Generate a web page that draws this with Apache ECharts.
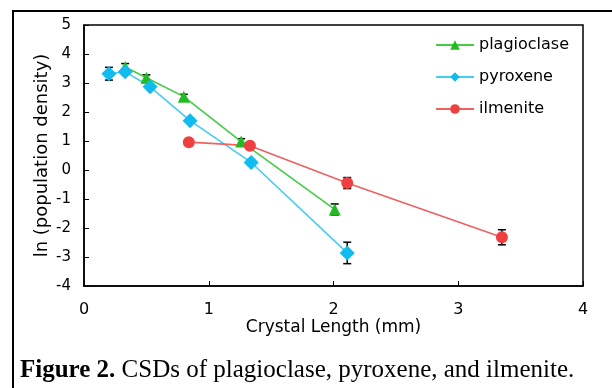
<!DOCTYPE html>
<html>
<head>
<meta charset="utf-8">
<script src="https://cdn.jsdelivr.net/npm/echarts@6/dist/echarts.min.js"></script>
<style>
html,body{margin:0;padding:0;background:#fff;}
#chart{width:612px;height:388px;}
</style>
</head>
<body>
<div id="chart"></div>
<script>
// crystal length (mm), ln(population density), error half-width
const plagX = [0.33, 0.50, 0.80, 1.26, 2.01];
const plagY = [3.55, 3.18, 2.53, 0.98, -1.36];
const plagErr = [0.12, 0.1, 0.08, 0.1, 0.19];

const pyrX = [0.20, 0.33, 0.53, 0.85, 1.34, 2.11];
const pyrY = [3.32, 3.39, 2.87, 1.70, 0.26, -2.86];
const pyrErr = [0.22, 0.1, 0.08, 0.05, 0.1, 0.37];

const ilmX = [0.84, 1.33, 2.11, 3.35];
const ilmY = [0.96, 0.84, -0.45, -2.32];
const ilmErr = [0.05, 0.08, 0.19, 0.26];

const xTicks = [0, 1, 2, 3, 4];
const yTicks = [-4, -3, -2, -1, 0, 1, 2, 3, 4, 5];

const names = ['plagioclase', 'pyroxene', 'ilmenite'];
const colors = ['#22bb22', '#11bbee', '#ee4040'];
const lineColors = ['#44cc44', '#44ccf4', '#f06060'];
const symbols = ['triangle', 'diamond', 'circle'];
const symSizes = [12, 15, 12];

const sets = [[plagX, plagY, plagErr], [pyrX, pyrY, pyrErr], [ilmX, ilmY, ilmErr]];

var myChart = echarts.init(document.getElementById('chart'), null, {renderer: 'canvas'});

function errBar(params, api) {
    const x = api.value(0);
    const lo = api.coord([x, api.value(1)]);
    const hi = api.coord([x, api.value(2)]);
    const w = 4;
    const st = {stroke: '#000', lineWidth: 1.5};
    return {
        type: 'group',
        children: [
            {type: 'line', shape: {x1: lo[0], y1: lo[1], x2: hi[0], y2: hi[1]}, style: st},
            {type: 'line', shape: {x1: lo[0] - w, y1: lo[1], x2: lo[0] + w, y2: lo[1]}, style: st},
            {type: 'line', shape: {x1: hi[0] - w, y1: hi[1], x2: hi[0] + w, y2: hi[1]}, style: st}
        ]
    };
}

const series = [];
sets.forEach((s, i) => {
    series.push({
        name: names[i] + ' err',
        type: 'custom',
        renderItem: errBar,
        z: 2,
        data: s[0].map((x, k) => [x, s[1][k] - s[2][k], s[1][k] + s[2][k]])
    });
});
sets.forEach((s, i) => {
    series.push({
        name: names[i],
        type: 'line',
        z: 3,
        symbol: symbols[i],
        symbolSize: symSizes[i],
        itemStyle: {color: colors[i]},
        lineStyle: {color: lineColors[i], width: 1.6},
        data: s[0].map((x, k) => [x, s[1][k]])
    });
});

const option = {
    animation: false,
    backgroundColor: '#fff',
    textStyle: {fontFamily: 'DejaVu Sans'},
    grid: {left: 84, right: 29, top: 25, bottom: 102, show: true, borderColor: '#000', borderWidth: 1.5},
    legend: {
        data: names,
        orient: 'vertical',
        left: 430,
        top: 32,
        itemWidth: 38,
        itemHeight: 12,
        itemGap: 16,
        textStyle: {fontSize: 16, color: '#000', fontFamily: 'DejaVu Sans'}
    },
    xAxis: {
        type: 'value',
        min: 0, max: 4, interval: 1,
        name: 'Crystal Length (mm)',
        nameLocation: 'middle',
        nameGap: 33,
        nameMoveOverlap: false,
        nameTextStyle: {fontSize: 17, color: '#000'},
        axisLine: {onZero: false, lineStyle: {color: '#000', width: 1.5}},
        axisTick: {inside: true, length: 5, lineStyle: {color: '#000'}},
        axisLabel: {fontSize: 16, color: '#000', margin: 16,
            formatter: v => xTicks.includes(v) ? String(v) : ''},
        splitLine: {show: false}
    },
    yAxis: {
        type: 'value',
        min: -4, max: 5, interval: 1,
        name: 'ln (population density)',
        nameLocation: 'middle',
        nameGap: 33,
        nameMoveOverlap: false,
        nameTextStyle: {fontSize: 18, color: '#000'},
        axisLine: {show: true, onZero: false, lineStyle: {color: '#000', width: 1.5}},
        axisTick: {show: true, inside: true, length: 5, lineStyle: {color: '#000'}},
        axisLabel: {fontSize: 15, color: '#000', margin: 13,
            formatter: v => yTicks.includes(v) ? String(v) : ''},
        splitLine: {show: false}
    },
    graphic: [
        {type: 'rect', shape: {x: 13, y: 11, width: 700, height: 500}, style: {fill: 'none', stroke: '#000', lineWidth: 2}, silent: true},
        {type: 'text', left: 20, top: 358, style: {
            text: '{b|Figure 2.} CSDs of plagioclase, pyroxene, and ilmenite.',
            font: '25px "Liberation Serif"', fill: '#000',
            rich: {b: {fontWeight: 'bold', fontSize: 25, fontFamily: 'Liberation Serif'}}
        }}
    ],
    series: series
};

myChart.setOption(option);
</script>
</body>
</html>
